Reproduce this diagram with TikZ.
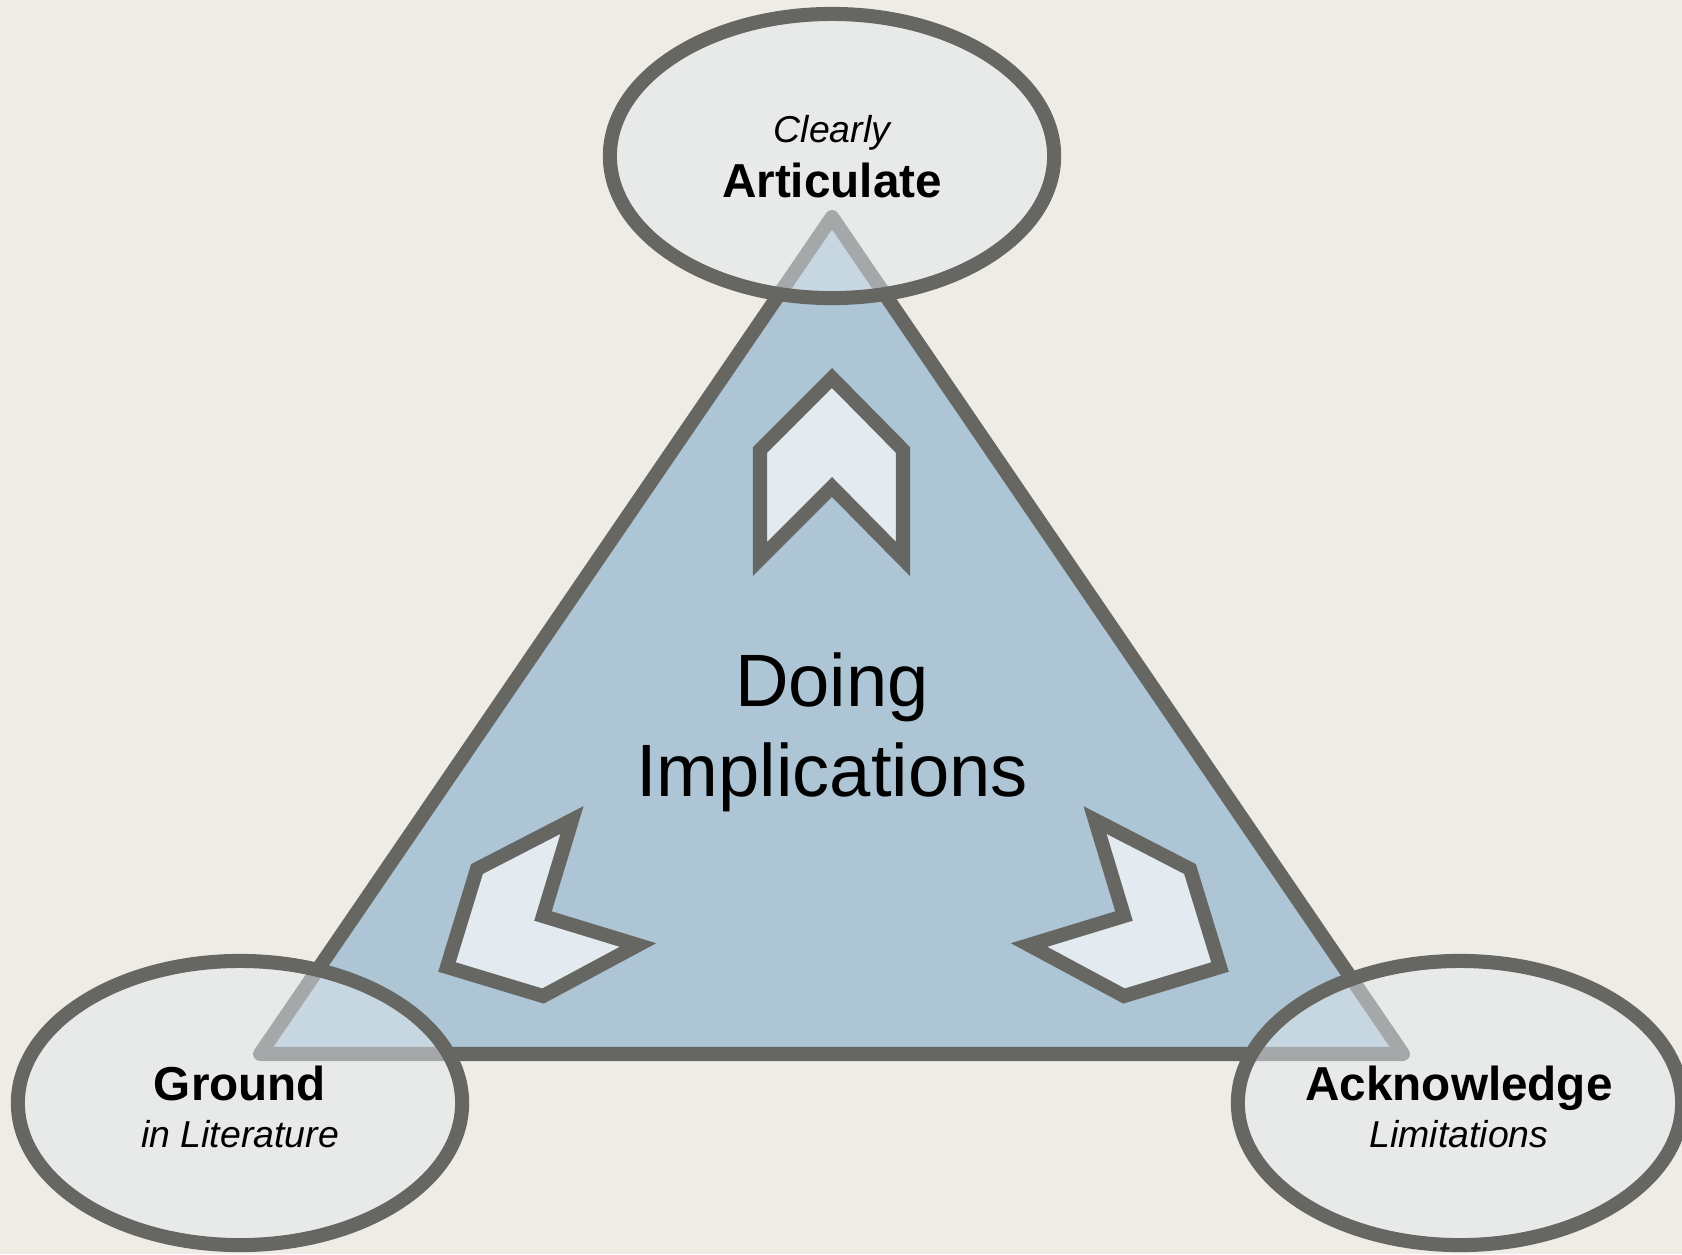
\documentclass[tikz,border=0pt]{standalone}
\usepackage{fontspec}
\setmainfont{Liberation Sans}
\usetikzlibrary{shapes.geometric}
\definecolor{bgc}{HTML}{EFECE5}
\definecolor{edgec}{HTML}{666762}
\definecolor{trifill}{HTML}{ADC5D5}
\definecolor{chevfill}{HTML}{E3EAF0}
\definecolor{bubfill}{HTML}{E2E9EE}
\begin{document}
\begin{tikzpicture}[x=0.01cm,y=-0.01cm,
  tri/.style={draw=edgec, fill=trifill, line width=4pt, line join=round},
  chev/.style={draw=edgec, fill=chevfill, line width=4pt, line join=miter},
  bubble/.style={ellipse, draw=edgec, fill=bubfill, fill opacity=0.5, draw opacity=1,
    line width=4pt, minimum width=4.44cm, minimum height=2.84cm, inner sep=0pt},
  boldlbl/.style={anchor=base, inner sep=0pt, font=\fontsize{13.55pt}{16pt}\selectfont\bfseries},
  itlbl/.style={anchor=base, inner sep=0pt, font=\fontsize{10.65pt}{13pt}\selectfont\itshape},
  biglbl/.style={anchor=base, inner sep=0pt, font=\fontsize{21.1pt}{25pt}\selectfont}]
\fill[bgc] (0,0) rectangle (1682,1254);
\useasboundingbox (0,0) rectangle (1682,1254);
\clip (0,0) rectangle (1682,1254);
% triangle
\coordinate (T) at (832,217);
\coordinate (L) at (260,1054);
\coordinate (R) at (1403,1054);
\draw[tri] (T) -- (L) -- (R) -- cycle;
% chevrons
\draw[chev] (760,450) -- (832,378) -- (903,450) -- (903,559) -- (832,487) -- (760,559) -- cycle;
\draw[chev] (572,820) -- (477,869) -- (447,967) -- (543,996) -- (638,945) -- (543,916) -- cycle;
\draw[chev] (1095,820) -- (1190,869) -- (1220,967) -- (1124,996) -- (1029,945) -- (1124,916) -- cycle;
% centre text
\node[biglbl] (doing) at (832,706) {Doing};
\node[biglbl] (impl) at (832,796) {Implications};
% ellipses
\node[bubble] (art) at (832,156) {};
\node[bubble] (gro) at (240,1103) {};
\node[bubble] (ack) at (1460,1103) {};
% labels
\node[itlbl] (artA) at (832,142) {Clearly};
\node[boldlbl] (artB) at (832,197) {Articulate};
\node[boldlbl] (groA) at (240,1100) {Ground};
\node[itlbl] (groB) at (240,1147) {in Literature};
\node[boldlbl] (ackA) at (1459,1100) {Acknowledge};
\node[itlbl] (ackB) at (1459,1147) {Limitations};
\end{tikzpicture}
\end{document}
